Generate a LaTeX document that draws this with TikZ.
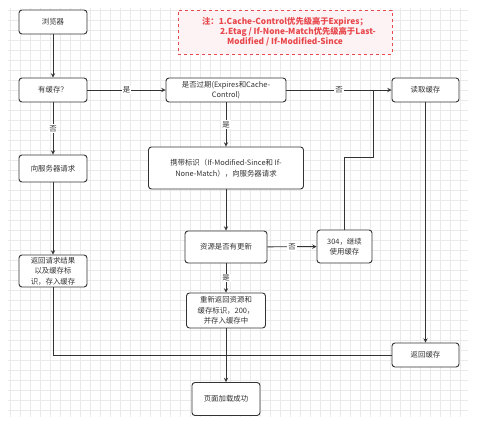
\documentclass[tikz,border=0pt]{standalone}
\usepackage{fontspec}
\setmainfont{Noto Sans CJK SC}
\definecolor{linegray}{HTML}{333333}
\definecolor{notered}{HTML}{E8474C}
\definecolor{notefill}{HTML}{FDF3F4}
\definecolor{gridgray}{HTML}{EAEAEA}
\begin{document}
\begin{tikzpicture}[
  x=1pt, y=-1pt,
  box/.style={draw=linegray, line width=0.9pt, rounded corners=3pt, fill=white,
              font=\fontsize{7.4}{10.5}\selectfont, align=center, inner sep=1pt,
              text=black!80},
  arrow/.style={-stealth, line width=0.9pt, linegray},
  conn/.style={line width=0.9pt, linegray},
  lbl/.style={fill=white, inner sep=1pt, font=\fontsize{7.4}{9}\selectfont,
              text=black!80},
]
\useasboundingbox (0,0) rectangle (500,427);
% grid
\draw[gridgray, line width=0.4pt, step=10pt] (8,8) grid (468,417);

% note
\node[draw=notered, dashed, fill=notefill, line width=0.6pt, minimum width=214pt,
      minimum height=44pt, align=center, text=notered,
      font=\bfseries\fontsize{8.3}{10}\selectfont] (note) at (285,32)
  {注：1.Cache-Control优先级高于Expires；\\
   \hspace*{26pt}2.Etag / If-None-Match优先级高于Last-\\
   Modified / If-Modified-Since};

% left column
\node[box, minimum width=68pt, minimum height=24pt] (browser) at (53,22) {浏览器};
\node[box, minimum width=68pt, minimum height=24pt] (hasCache) at (53,90) {有缓存？};
\node[box, minimum width=68pt, minimum height=27pt] (askServer) at (53,168.5) {向服务器请求};
\node[box, minimum width=68pt, minimum height=32pt] (reqResult) at (53,271)
  {返回请求结果\\以及缓存标\\识，存入缓存};

% middle column
\node[box, minimum width=120pt, minimum height=24pt] (expired) at (226,90)
  {是否过期(Expires和Cache-\\Control)};
\node[box, minimum width=155pt, minimum height=42pt] (withTag) at (226,168)
  {携带标识（If-Modified-Since和 If-\\None-Match），向服务器请求};
\node[box, minimum width=82pt, minimum height=32pt] (updated) at (226,247) {资源是否有更新};
\node[box, minimum width=79pt, minimum height=35pt] (newRes) at (226,310.5)
  {重新返回资源和\\缓存标识，200，\\并存入缓存中};
\node[box, minimum width=68pt, minimum height=33pt] (loaded) at (226,399) {页面加载成功};

% right side
\node[box, minimum width=55pt, minimum height=33pt] (code304) at (344.5,246.5)
  {304，继续\\使用缓存};
\node[box, minimum width=67pt, minimum height=24pt] (readCache) at (425.5,90) {读取缓存};
\node[box, minimum width=67pt, minimum height=24pt] (retCache) at (425.5,355) {返回缓存};

\coordinate (joinTop) at (373,90);

% links
\draw[arrow] (browser) -- (hasCache);
\draw[arrow] (hasCache) -- node[lbl]{是} (expired);
\draw[arrow] (hasCache) -- node[lbl]{否} (askServer);
\draw[arrow] (askServer) -- (reqResult);
\draw[arrow] (expired) -- node[lbl]{否} (readCache);
\draw[arrow] (expired) -- node[lbl]{是} (withTag);
\draw[arrow] (withTag) -- (updated);
\draw[arrow] (updated) -- node[lbl]{否} (code304);
\draw[arrow] (updated) -- node[lbl]{是} (newRes);
\draw[conn] (code304.north) -- ++(0,-72) -| (joinTop);
\draw[arrow] (readCache) -- (retCache);
\draw[conn] (reqResult.south) |- (retCache.west);
\draw[arrow] (newRes) -- (loaded);
\end{tikzpicture}
\end{document}
